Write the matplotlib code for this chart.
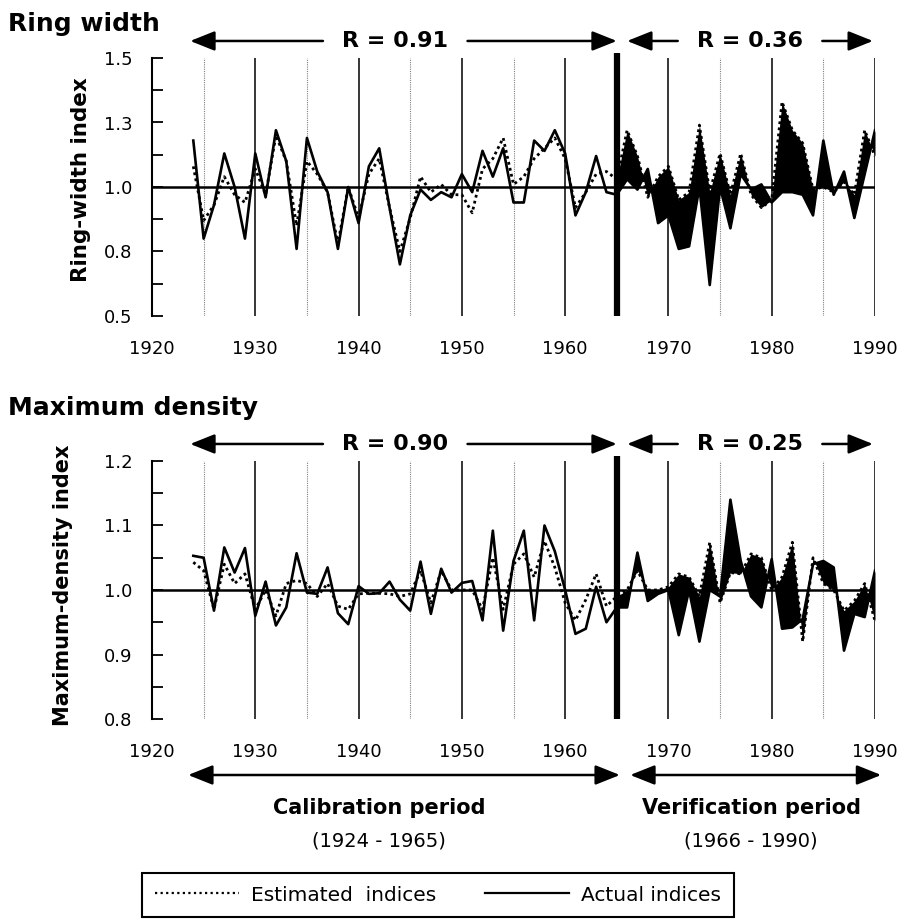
"""
Ring width and maximum density: actual vs estimated indices,
calibration (1924-1965) and verification (1966-1990) periods.
"""

import matplotlib
matplotlib.use('Agg')
import matplotlib.pyplot as plt
from matplotlib.lines import Line2D
import numpy as np

# ---- data ----
years = list(range(1924, 1991))

rw_actual = [1.18, 0.80, 0.93, 1.13, 1.00, 0.80, 1.13, 0.96, 1.22, 1.10,
             0.76, 1.19, 1.06, 0.98, 0.76, 1.00, 0.86, 1.08, 1.15, 0.92,
             0.70, 0.89, 0.99, 0.95, 0.98, 0.96, 1.05, 0.98, 1.14, 1.04,
             1.15, 0.94, 0.94, 1.18, 1.14, 1.22, 1.13, 0.89, 0.98, 1.12,
             0.98, 0.97,
             1.03, 0.99, 1.07, 0.86, 0.89, 0.76, 0.77, 1.00, 0.62, 1.00,
             0.84, 1.05, 0.99, 1.01, 0.94, 0.98, 0.98, 0.97, 0.89, 1.18,
             0.97, 1.06, 0.88, 1.05, 1.22]
rw_estimated = [1.08, 0.87, 0.93, 1.04, 0.97, 0.94, 1.07, 0.97, 1.20, 1.10,
                0.85, 1.10, 1.05, 0.98, 0.78, 1.00, 0.88, 1.05, 1.11, 0.92,
                0.75, 0.88, 1.04, 0.98, 1.01, 0.97, 0.97, 0.90, 1.07, 1.11,
                1.19, 1.01, 1.04, 1.11, 1.15, 1.19, 1.11, 0.92, 0.98, 1.05,
                1.06, 1.03,
                1.22, 1.12, 0.96, 1.04, 1.08, 0.95, 0.98, 1.24, 0.98, 1.13,
                0.97, 1.13, 0.97, 0.92, 0.95, 1.33, 1.22, 1.17, 0.99, 1.00,
                0.98, 1.02, 0.97, 1.22, 1.12]

md_actual = [1.053, 1.050, 0.968, 1.066, 1.027, 1.065, 0.960, 1.013, 0.945, 0.973,
             1.057, 0.996, 0.994, 1.035, 0.964, 0.947, 1.006, 0.994, 0.995, 1.013,
             0.985, 0.968, 1.044, 0.963, 1.033, 0.996, 1.011, 1.014, 0.953, 1.092,
             0.937, 1.045, 1.092, 0.953, 1.100, 1.060, 1.000, 0.932, 0.940, 1.005,
             0.950, 0.973,
             0.973, 1.058, 0.983, 0.994, 1.000, 0.930, 1.000, 0.920, 1.000, 0.990,
             1.140, 1.045, 0.990, 0.973, 1.048, 0.940, 0.942, 0.955, 1.040, 1.045,
             1.035, 0.906, 0.963, 0.958, 1.030]
md_estimated = [1.043, 1.030, 0.970, 1.040, 1.010, 1.025, 0.970, 1.000, 0.960, 1.010,
                1.015, 1.010, 0.990, 1.010, 0.975, 0.970, 0.994, 0.995, 0.995, 0.994,
                0.990, 0.994, 1.030, 0.980, 1.030, 1.000, 1.000, 1.000, 0.970, 1.050,
                0.970, 1.040, 1.056, 1.020, 1.076, 1.035, 0.980, 0.953, 0.985, 1.025,
                0.975, 0.990,
                1.000, 1.030, 1.000, 1.000, 1.005, 1.025, 1.020, 0.990, 1.074, 0.980,
                1.027, 1.025, 1.056, 1.050, 1.000, 1.020, 1.074, 0.920, 1.050, 1.010,
                1.000, 0.968, 0.983, 1.010, 0.952]

calibration = (1924, 1965)
verification = (1966, 1990)
r_ring = ['R = 0.91', 'R = 0.36']
r_dens = ['R = 0.90', 'R = 0.25']

W, H = 910, 922


def draw_panel(ax, act, est, ylim, major, major_labels, minor, r_labels):
    x = np.array(years)
    act = np.array(act)
    est = np.array(est)

    # vertical guides: solid every decade, dotted every 5 years
    for yr in range(1925, 1990, 10):
        ax.axvline(yr, color='0.5', lw=0.8, ls=(0, (1, 1)), zorder=1)
    for yr in range(1930, 1991, 10):
        ax.axvline(yr, color='black', lw=1.1, zorder=1)
    ax.axhline(1.0, color='black', lw=1.8, zorder=2)

    # verification period shaded between the two curves
    v = x >= calibration[1]
    ax.fill_between(x[v], act[v], est[v], color='black', lw=0, zorder=3)

    ax.plot(x, est, color='black', lw=2.0, ls=(0, (1, 1.2)), zorder=4)
    ax.plot(x, act, color='black', lw=1.9, zorder=5)

    # boundary between the two periods
    ax.plot([calibration[1], calibration[1]], [ylim[0], ylim[1] + (ylim[1] - ylim[0]) * 0.02],
            color='black', lw=4.5, solid_capstyle='butt', clip_on=False, zorder=6)

    ax.set_xlim(1920, 1990)
    ax.set_ylim(*ylim)
    ax.set_yticks(major)
    ax.set_yticklabels(major_labels)
    ax.set_yticks(minor, minor=True)
    ax.set_xticks(range(1920, 1991, 10))
    ax.tick_params(axis='y', which='both', direction='in', length=8, width=1.3,
                   labelsize=13, pad=14)
    ax.tick_params(axis='x', length=0, labelsize=13, pad=17)
    for side in ['top', 'right', 'bottom']:
        ax.spines[side].set_visible(False)
    ax.spines['left'].set_linewidth(1.5)

    # R arrows above each period
    yr_arrow = 1.066
    head = dict(arrowstyle='-|>,head_length=0.75,head_width=0.3', color='black',
                lw=1.8, mutation_scale=20, shrinkA=0, shrinkB=0)
    for (a, b), lab in zip([(calibration[0] - 0.3, calibration[1]),
                            (verification[0], verification[1] - 0.2)], r_labels):
        mid = (a + b) / 2 - (0.8 if a < 1950 else 0)
        ax.annotate('', xy=(a, yr_arrow), xytext=(mid - 7, yr_arrow),
                    xycoords=('data', 'axes fraction'), textcoords=('data', 'axes fraction'),
                    arrowprops=head, annotation_clip=False)
        ax.annotate('', xy=(b, yr_arrow), xytext=(mid + 7, yr_arrow),
                    xycoords=('data', 'axes fraction'), textcoords=('data', 'axes fraction'),
                    arrowprops=head, annotation_clip=False)
        ax.text(mid, yr_arrow, lab, transform=ax.get_xaxis_transform(),
                ha='center', va='center', fontsize=16, fontweight='bold')


fig = plt.figure(figsize=(W / 100, H / 100), dpi=100)
ax1 = fig.add_axes([152 / W, 1 - 316 / H, 723 / W, 258 / H])
ax2 = fig.add_axes([152 / W, 1 - 719 / H, 723 / W, 258 / H])

draw_panel(ax1, rw_actual, rw_estimated, (0.5, 1.5),
           [0.5, 0.75, 1.0, 1.25, 1.5], ['0.5', '0.8', '1.0', '1.3', '1.5'],
           [0.625, 0.875, 1.125, 1.375], r_ring)
draw_panel(ax2, md_actual, md_estimated, (0.8, 1.2),
           [0.8, 0.9, 1.0, 1.1, 1.2], ['0.8', '0.9', '1.0', '1.1', '1.2'],
           [0.85, 0.95, 1.05, 1.15], r_dens)

# panel titles and y labels
fig.text(8 / W, 1 - 31 / H, 'Ring width', fontsize=18, fontweight='bold', va='baseline')
fig.text(8 / W, 1 - 415 / H, 'Maximum density', fontsize=18, fontweight='bold', va='baseline')
fig.text(81 / W, 1 - 180 / H, 'Ring-width index', rotation=90, fontsize=15.5,
         fontweight='bold', ha='center', va='center')
fig.text(63 / W, 1 - 585 / H, 'Maximum-density index', rotation=90, fontsize=15,
         fontweight='bold', ha='center', va='center')

# period arrows under the lower panel
y_per = 1 - 775 / H
both = dict(arrowstyle='<|-|>,head_length=0.75,head_width=0.3', color='black',
            lw=1.8, mutation_scale=20, shrinkA=0, shrinkB=0)
for (a, b), name in zip([calibration, verification],
                        ['Calibration period', 'Verification period']):
    a0 = a - 0.5 if a < 1950 else a + 0.3
    b0 = b + 0.3 if a < 1950 else b + 0.6
    ax2.annotate('', xy=(a0, y_per), xytext=(b0, y_per),
                 xycoords=('data', 'figure fraction'), textcoords=('data', 'figure fraction'),
                 arrowprops=both, annotation_clip=False)
    mid = (a + b) / 2 - (2.5 if a < 1950 else 0)
    ax2.annotate(name, xy=(mid, 1 - 808 / H), xycoords=('data', 'figure fraction'),
                 ha='center', va='center', fontsize=15, fontweight='bold',
                 annotation_clip=False)
    ax2.annotate(f'({a} - {b})', xy=(mid, 1 - 841 / H), xycoords=('data', 'figure fraction'),
                 ha='center', va='center', fontsize=14, annotation_clip=False)

# legend box at the bottom
handles = [Line2D([], [], color='black', lw=1.6, ls=(0, (1, 1.5))),
           Line2D([], [], color='black', lw=1.6)]
leg = fig.legend(handles, ['Estimated  indices', 'Actual indices'], ncol=2,
                 loc='center', bbox_to_anchor=(438 / W, 1 - 895 / H),
                 fontsize=14.5, frameon=True, fancybox=False, edgecolor='black',
                 framealpha=1, handlelength=4.2, handletextpad=0.6,
                 columnspacing=2.4, borderpad=0.6)
leg.get_frame().set_linewidth(1.5)

plt.savefig('out.png', dpi=100, facecolor='white')
plt.close()
